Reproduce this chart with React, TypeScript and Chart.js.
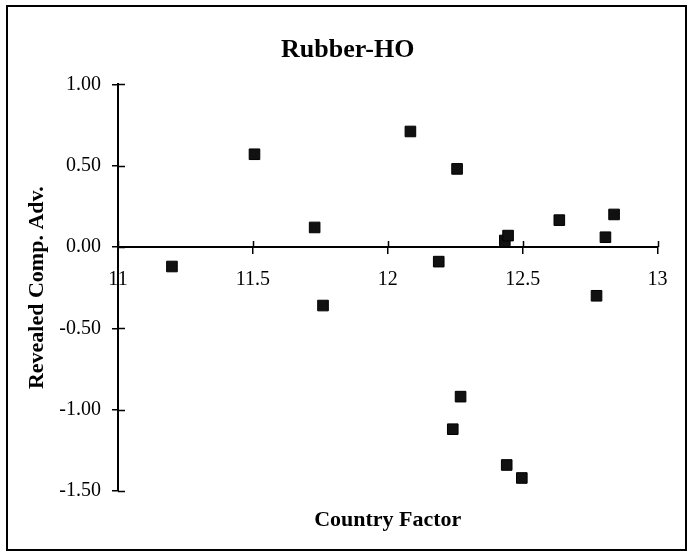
import React, { useEffect, useRef } from "react";
import { Chart, registerables } from "chart.js";

Chart.register(...registerables);

const chartTitle = "Rubber-HO";
const xAxisTitle = "Country Factor";
const yAxisTitle = "Revealed Comp. Adv.";

const countryFactor = [11.2, 11.506, 11.729, 11.76, 12.084, 12.189, 12.257, 12.241, 12.27, 12.434, 12.446, 12.441, 12.497, 12.636, 12.774, 12.807, 12.839];
const revealedAdv = [-0.12, 0.57, 0.12, -0.36, 0.71, -0.09, 0.48, -1.12, -0.92, 0.04, 0.07, -1.34, -1.42, 0.165, -0.3, 0.06, 0.2];

const xMin = 11;
const xMax = 13;
const xStep = 0.5;
const yMin = -1.5;
const yMax = 1.0;
const yStep = 0.5;

const FONT = "'Liberation Serif', 'Times New Roman', Times, serif";

const decorPlugin = {
  id: "decor",
  beforeDraw(chart: any) {
    const ctx = chart.ctx;
    ctx.save();
    ctx.strokeStyle = "#000";
    ctx.lineWidth = 2;
    ctx.strokeRect(7, 6, 679, 544);
    ctx.restore();
  },
  afterDraw(chart: any) {
    const ctx = chart.ctx;
    const xs = chart.scales.x;
    const ys = chart.scales.y;
    const y0 = ys.getPixelForValue(0);
    const left = chart.chartArea.left;
    ctx.save();
    ctx.strokeStyle = "#000";
    ctx.lineWidth = 1.5;
    ctx.beginPath();
    xs.ticks.forEach((t: any) => {
      const px = Math.round(xs.getPixelForValue(t.value)) + 0.5;
      ctx.moveTo(px, y0);
      ctx.lineTo(px, y0 - 6);
    });
    ys.ticks.forEach((t: any) => {
      const py = Math.round(ys.getPixelForValue(t.value)) + 0.5;
      ctx.moveTo(left, py);
      ctx.lineTo(left + 7, py);
    });
    ctx.stroke();
    ctx.restore();
  },
};

export default function App() {
  const ref = useRef<HTMLCanvasElement>(null);

  useEffect(() => {
    const points = countryFactor.map((x, i) => ({ x, y: revealedAdv[i] }));
    const chart = new Chart(ref.current as HTMLCanvasElement, {
      type: "scatter",
      data: {
        datasets: [
          {
            data: points,
            pointStyle: "rect",
            pointRadius: 7.5,
            pointHoverRadius: 7.5,
            backgroundColor: "#111",
            borderColor: "#000",
            borderWidth: 1,
          },
        ],
      },
      options: {
        responsive: false,
        animation: false,
        layout: { padding: { left: 38, right: 30.5, top: 8, bottom: 8 } },
        plugins: {
          legend: { display: false },
          tooltip: { enabled: false },
          title: {
            display: true,
            text: chartTitle,
            color: "#000",
            font: { family: FONT, size: 26, weight: "bold" },
            padding: { top: 26.8, bottom: 18.3 },
          },
          subtitle: {
            display: true,
            text: xAxisTitle,
            position: "bottom",
            fullSize: false,
            color: "#000",
            font: { family: FONT, size: 22, weight: "bold" },
            padding: { top: 16.3, bottom: 10.3 },
          },
        },
        scales: {
          x: {
            type: "linear",
            position: { y: 0 } as any,
            min: xMin,
            max: xMax,
            ticks: {
              stepSize: xStep,
              color: "#000",
              padding: 15,
              maxRotation: 0,
              font: { family: FONT, size: 20 },
              callback: (v: any) => String(Math.round(Number(v) * 10) / 10),
            },
            grid: {
              drawOnChartArea: false,
              drawTicks: true,
              tickLength: 6,
              color: "#000",
              lineWidth: 1.5,
            },
            border: { display: true, color: "#000", width: 2 },
          },
          y: {
            type: "linear",
            position: "left",
            min: yMin,
            max: yMax,
            afterFit(scale: any) {
              scale.width = 80;
            },
            ticks: {
              stepSize: yStep,
              color: "#000",
              padding: 11,
              font: { family: FONT, size: 20 },
              callback: (v: any) => Number(v).toFixed(2),
            },
            grid: {
              drawOnChartArea: false,
              drawTicks: true,
              tickLength: 6,
              color: "#000",
              lineWidth: 1.5,
            },
            border: { display: true, color: "#000", width: 2 },
            title: {
              display: true,
              text: yAxisTitle,
              color: "#000",
              font: { family: FONT, size: 22, weight: "bold" },
              padding: { top: -14.2, bottom: 0 },
            },
          },
        },
      },
      plugins: [decorPlugin],
    });
    return () => chart.destroy();
  }, []);

  return (
    <div style={{ position: "absolute", left: 0, top: 0, width: 688, height: 552, background: "#fff" }}>
      <canvas ref={ref} width={688} height={552} style={{ display: "block", width: 688, height: 552 }} />
    </div>
  );
}
